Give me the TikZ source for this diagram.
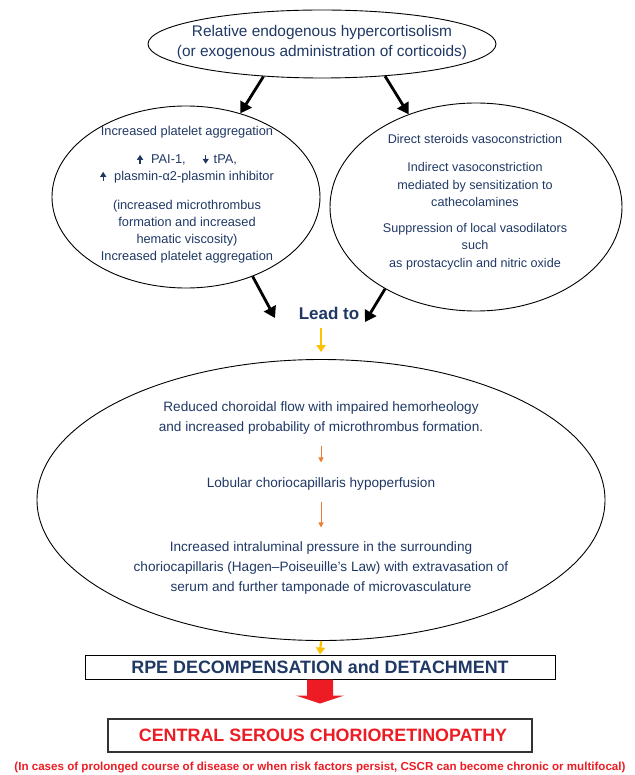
\documentclass[tikz,border=0pt]{standalone}
\usepackage{fontspec}
\setmainfont{Liberation Sans}
\usetikzlibrary{shapes.geometric,arrows.meta}
\definecolor{navy}{RGB}{31,56,100}
\definecolor{gold}{RGB}{255,192,0}
\definecolor{orng}{RGB}{237,125,49}
\definecolor{cred}{RGB}{237,28,36}
\begin{document}
\begin{tikzpicture}[x=1pt,y=-1pt,
  oval/.style={ellipse,draw,line width=0.9pt,inner sep=0pt},
  txt/.style={text=navy,align=center,inner sep=0pt},
  blk/.style={-{Triangle[length=11pt,width=13pt]},line width=2.8pt},
  yel/.style={gold,-{Triangle[length=7pt,width=9pt]},line width=2.2pt},
  org/.style={orng,-{Triangle[length=5pt,width=5pt]},line width=0.8pt}]
\useasboundingbox (0,0) rectangle (634,775);
\def\uparr{\tikz[baseline=0pt]\draw[-{Triangle[length=5pt,width=6pt]},line width=1.3pt] (0pt,0pt) -- (0pt,9pt);}
\def\dnarr{\tikz[baseline=0pt]\draw[-{Triangle[length=5pt,width=6pt]},line width=1.3pt] (0pt,9pt) -- (0pt,0pt);}
\node[oval,minimum width=348,minimum height=68] (top) at (322,44) {};
\node[txt,font=\fontsize{15.4}{20}\selectfont] (toptxt) at (322,43) {Relative endogenous hypercortisolism\\(or exogenous administration of corticoids)};
\node[oval,minimum width=268,minimum height=182] (left) at (186,197) {};
\node[txt,font=\fontsize{12.8}{17}\selectfont] (lefttxt) at (187,195) {Increased platelet aggregation\\[11pt]
  \uparr\hspace{8pt}PAI-1,\hspace{17pt}\dnarr\hspace{5pt}tPA,\\ \uparr\hspace{8pt}plasmin-α2-plasmin inhibitor\\[12pt]
  (increased microthrombus\\ formation and increased\\ hematic viscosity)\\ Increased platelet aggregation};
\node[oval,minimum width=292,minimum height=208] (right) at (476,207) {};
\node[txt,font=\fontsize{12.6}{17.5}\selectfont] (righttxt) at (475,202) {Direct steroids vasoconstriction\\[11pt]
  Indirect vasoconstriction\\ mediated by sensitization to\\ cathecolamines\\[8pt]
  Suppression of local vasodilators\\ such\\ as prostacyclin and nitric oxide};
\node[txt,font=\bfseries\fontsize{17}{20}\selectfont] (lead) at (329,313) {Lead to};
\coordinate (leadL) at (275,318);
\coordinate (leadR) at (365,322);
\node[oval,minimum width=568,minimum height=281] (big) at (321,500) {};
\node[txt,font=\fontsize{13.6}{20}\selectfont] (bt1) at (321,418) {Reduced choroidal flow with impaired hemorheology\\ and increased probability of microthrombus formation.};
\node[txt,font=\fontsize{13.6}{20}\selectfont] (bt2) at (321,484) {Lobular choriocapillaris hypoperfusion};
\node[txt,font=\fontsize{13.6}{20}\selectfont] (bt3) at (321,568) {Increased intraluminal pressure in the surrounding\\ choriocapillaris (Hagen–Poiseuille’s Law) with extravasation of\\ serum and further tamponade of microvasculature};
\node[draw,line width=1pt,minimum width=470,minimum height=24,inner sep=0pt,text=navy,font=\bfseries\fontsize{17.9}{20}\selectfont] (rpe) at (320,667) {RPE DECOMPENSATION and DETACHMENT};
\node[draw=black!80,line width=1.2pt,minimum width=424,minimum height=33,inner sep=0pt,text=cred,font=\bfseries\fontsize{17.9}{20}\selectfont] (cscr) at (320,735.5) {\hspace{6pt}CENTRAL SEROUS CHORIORETINOPATHY};
\node[inner sep=0pt,text=cred,font=\bfseries\fontsize{11.6}{13}\selectfont] (note) at (320,768) {(In cases of prolonged course of disease or when risk factors persist, CSCR can become chronic or multifocal)};
\draw[blk] (top.209) -- (left.57);
\draw[blk] (top.333) -- (right.126);
\draw[blk] (left.310) -- (leadL);
\draw[blk] (right.222) -- (leadR);
\draw[yel,shorten <=9pt,shorten >=7pt] (lead.south -| big.north) -- (big.north);
\draw[org,shorten <=11pt,shorten >=15pt] (bt1.south) -- (bt2.north);
\draw[org,shorten <=11pt,shorten >=14pt] (bt2.south) -- (bt3.north);
\draw[yel] (big.south) -- (rpe.north);
\fill[cred] ([xshift=-13pt]rpe.south) -- ++(26,0) -- ++(0,16) -- ++(11,0) -- ++(-24,8) -- ++(-24,-8) -- ++(11,0) -- cycle;
\end{tikzpicture}
\end{document}
